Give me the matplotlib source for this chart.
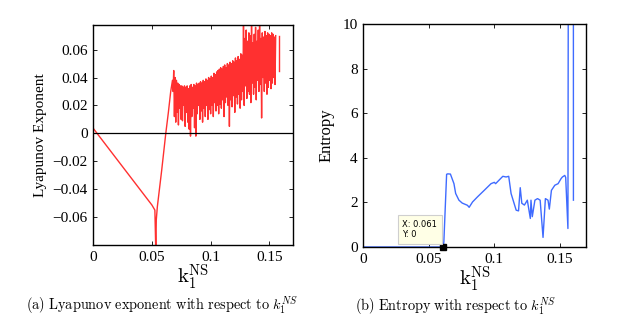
import numpy as np
import matplotlib
matplotlib.use("Agg")
import matplotlib.pyplot as plt

plt.rcParams['mathtext.fontset'] = 'cm'
plt.rcParams['font.family'] = 'Liberation Serif'

# ---------------- Panel (a): Lyapunov exponent ----------------
lyap_x_smooth = [0.0, 0.005, 0.010, 0.015, 0.020, 0.025, 0.030, 0.035, 0.040, 0.045,
                 0.050, 0.0525, 0.0533, 0.0537, 0.0546, 0.0583, 0.0618, 0.0640, 0.0660, 0.0675]
lyap_y_smooth = [0.0035, -0.0020, -0.0075, -0.0130, -0.0185, -0.0240, -0.0295, -0.0350, -0.0405, -0.0460,
                 -0.0514, -0.0550, -0.0850, -0.0620, -0.0526, -0.0265, 0.0000, 0.0150, 0.0300, 0.0380]

lyap_y_chaos = [
    0.030, 0.045, 0.012, 0.040, 0.008, 0.038, 0.015, 0.036, 0.006, 0.035, 0.018, 0.034, 0.010,
    0.034, 0.009, 0.033, 0.020, 0.034, 0.005, 0.033, 0.015, 0.034, 0.008, 0.032, 0.003, 0.034, -0.002,
    0.035, 0.012, 0.033, 0.018, 0.035, 0.004, 0.034, -0.002, 0.036, 0.014, 0.035, 0.020, 0.036, 0.010,
    0.037, 0.016, 0.036, 0.008, 0.038, 0.018, 0.037, 0.012, 0.039, 0.020, 0.038, 0.010, 0.040, 0.017, 0.039, 0.014,
    0.041, 0.020, 0.040, 0.012, 0.043, 0.022, 0.042, 0.016, 0.044, 0.020, 0.045, 0.014, 0.046, 0.021,
    0.047, 0.018, 0.046, 0.024, 0.048, 0.012, 0.049, 0.022, 0.047, 0.026, 0.050, 0.020, 0.049, 0.005, 0.051, 0.024,
    0.050, 0.019, 0.052, 0.027, 0.051, 0.015, 0.054, 0.026, 0.052, 0.021, 0.055, 0.028, 0.053, 0.018,
    0.057, 0.024, 0.056, 0.030, 0.077, 0.020, 0.068, 0.034, 0.074, 0.025, 0.066, 0.030, 0.072, 0.028,
    0.070, 0.022, 0.077, 0.036, 0.065, 0.028, 0.071, 0.033, 0.076, 0.024, 0.066, 0.038, 0.074, 0.030,
    0.077, 0.035, 0.068, 0.011, 0.072, 0.040, 0.069, 0.030, 0.073, 0.036, 0.070, 0.028, 0.072, 0.033,
    0.071, 0.038, 0.070, 0.032, 0.072, 0.036, 0.071, 0.040, 0.069, 0.035, 0.070,
]
lyap_chaos_start = 0.0680
lyap_chaos_end = 0.1555
lyap_x_tail = [0.1580, 0.1580]
lyap_y_tail = [0.0700, 0.0445]

# ---------------- Panel (b): Entropy ----------------
ent_x = [0.0, 0.0610, 0.0615, 0.0636, 0.0645, 0.0665, 0.0692, 0.0705, 0.0730, 0.0755, 0.0795, 0.0808,
         0.0834, 0.0872, 0.0923, 0.0975, 0.1000, 0.1010, 0.1065, 0.1090, 0.1110, 0.1128, 0.1167, 0.1185,
         0.1198, 0.1210, 0.1230, 0.1252, 0.1275, 0.1280, 0.1290, 0.1310, 0.1330, 0.1350, 0.1372, 0.1390,
         0.1410, 0.1420, 0.1436, 0.1462, 0.1487, 0.1510, 0.1520, 0.1538, 0.1545, 0.1562, 0.1572, 0.1603, 0.1604]
ent_y = [0.0, 0.0, 0.24, 3.26, 3.28, 3.27, 2.84, 2.40, 2.10, 1.97, 1.87, 1.78,
         2.02, 2.25, 2.54, 2.84, 2.90, 2.84, 3.17, 3.14, 3.17, 2.40, 1.65, 1.62,
         2.66, 1.96, 1.88, 2.10, 1.28, 2.10, 1.36, 2.10, 2.17, 2.10, 0.43, 2.17,
         2.10, 1.70, 2.54, 2.77, 2.84, 3.07, 3.14, 3.21, 3.12, 0.83, 40.0, 40.0, 2.10]
tip_x = 0.061
tip_y = 0.0

red = '#FF3030'
blue = '#3F6BFF'

fig = plt.figure(figsize=(6.26, 3.27), dpi=100)

# ---- Left axes
ax1 = fig.add_axes([93.3 / 626, 1 - 245 / 327, (292.7 - 93.3) / 626, (245 - 25.3) / 327])
x_chaos = np.linspace(lyap_chaos_start, lyap_chaos_end, len(lyap_y_chaos))
ax1.axhline(0, color='black', lw=0.9, zorder=3)
ax1.plot(lyap_x_smooth + list(x_chaos), lyap_y_smooth + lyap_y_chaos, color=red, lw=1.0, zorder=2)
ax1.plot(lyap_x_tail, lyap_y_tail, color=red, lw=1.0, zorder=2)
ax1.set_xlim(0, 0.17)
ax1.set_ylim(-0.080, 0.0774)
ax1.set_xticks([0, 0.05, 0.1, 0.15])
ax1.set_xticklabels(['0', '0.05', '0.1', '0.15'])
ax1.set_yticks([-0.06, -0.04, -0.02, 0, 0.02, 0.04, 0.06])
ax1.set_yticklabels(['\u22120.06', '\u22120.04', '\u22120.02', '0', '0.02', '0.04', '0.06'])
ax1.set_ylabel('Lyapunov Exponent', fontsize=11, labelpad=4)
ax1.set_xlabel(r'$\mathrm{k}_1^{\mathrm{NS}}$', fontsize=15, labelpad=-1)

# ---- Right axes
ax2 = fig.add_axes([363.3 / 626, 1 - 247 / 327, (586 - 363.3) / 626, (247 - 24) / 327])
ax2.plot(ent_x, ent_y, color=blue, lw=1.0, zorder=2, clip_on=True)
ax2.set_xlim(0, 0.17)
ax2.set_ylim(0, 10)
ax2.set_xticks([0, 0.05, 0.1, 0.15])
ax2.set_xticklabels(['0', '0.05', '0.1', '0.15'])
ax2.set_yticks([0, 2, 4, 6, 8, 10])
ax2.set_ylabel('Entropy', fontsize=12, labelpad=6)
ax2.set_xlabel(r'$\mathrm{k}_1^{\mathrm{NS}}$', fontsize=15, labelpad=-1)
ax2.plot([tip_x], [tip_y], marker='s', color='black', ms=5, clip_on=False, zorder=5)
ax2.annotate(f'X: {tip_x:.3f}\nY: {tip_y:.0f}', xy=(tip_x, tip_y), xytext=(-41, 8),
             textcoords='offset pixels', fontsize=6, family='DejaVu Sans',
             ha='left', va='bottom', linespacing=1.15,
             bbox=dict(boxstyle='square,pad=0.55', fc='#FFFFE6', ec='#CFCFCF', lw=0.8), zorder=6)

for ax in (ax1, ax2):
    ax.tick_params(direction='in', length=3, width=0.6, top=True, right=True,
                   labelsize=11, pad=4)
    for s in ax.spines.values():
        s.set_linewidth(1.0)

fig.text(162 / 626, 1 - 306 / 327,
         r'$\mathrm{(a)\ Lyapunov\ exponent\ with\ respect\ to\ }k_1^{NS}$',
         ha='center', va='center', fontsize=10.3)
fig.text(456 / 626, 1 - 307 / 327,
         r'$\mathrm{(b)\ Entropy\ with\ respect\ to\ }k_1^{NS}$',
         ha='center', va='center', fontsize=10.3)

fig.savefig('out.png', dpi=100)
